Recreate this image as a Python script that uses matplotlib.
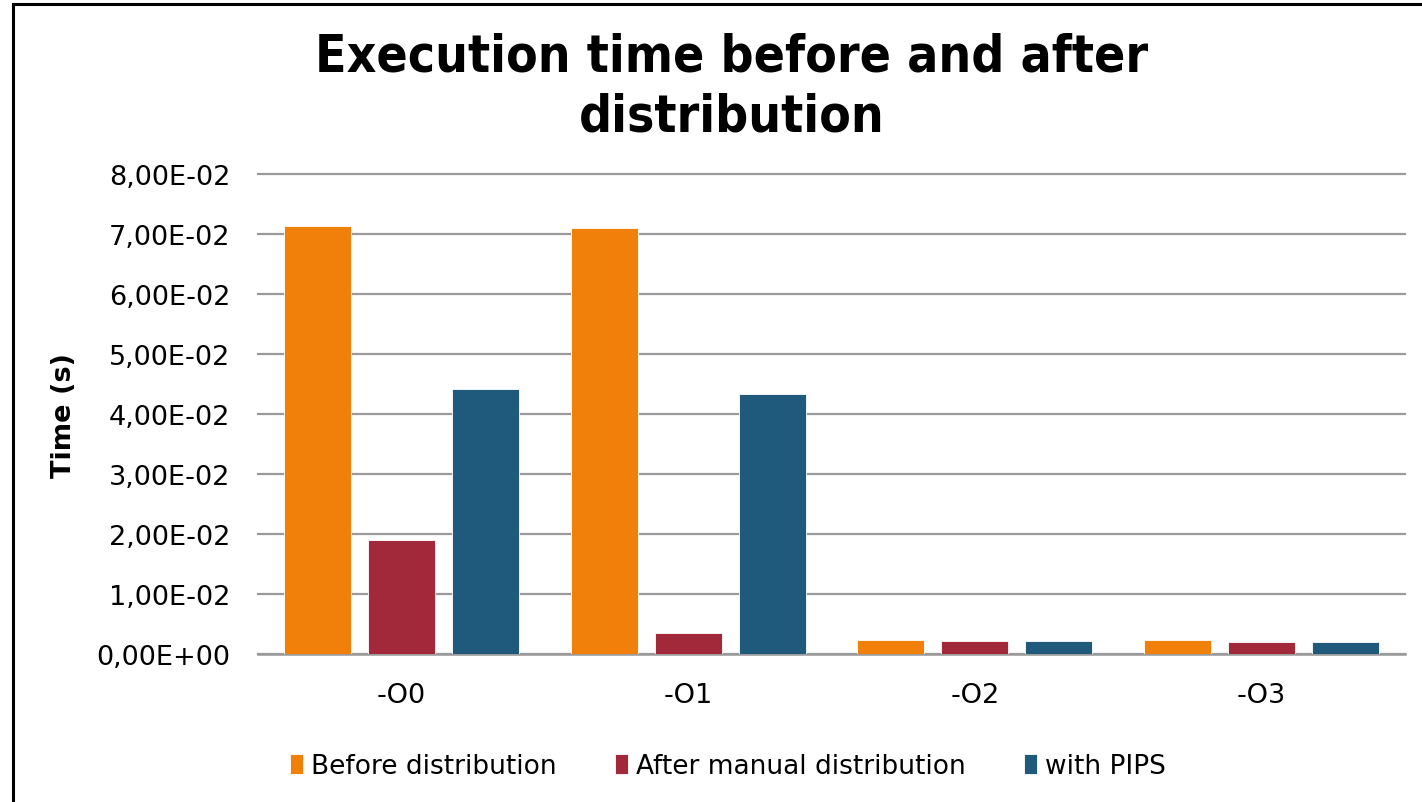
import matplotlib.pyplot as plt
import numpy as np
from matplotlib.patches import Rectangle
from matplotlib.ticker import FuncFormatter

categories = ["-O0", "-O1", "-O2", "-O3"]
series_names = ["Before distribution", "After manual distribution", "with PIPS"]
before = [0.0713, 0.0710, 0.0024, 0.0024]
manual = [0.0190, 0.0035, 0.0021, 0.0020]
pips = [0.0442, 0.0433, 0.0022, 0.0020]
colors = ["#F0800A", "#A22939", "#1F5A7D"]

plt.rcParams["font.family"] = "DejaVu Sans"

fig = plt.figure(figsize=(14.22, 8.03), dpi=100)
ax = fig.add_axes([258 / 1422, 1 - 655 / 803, (1405 - 258) / 1422, 480 / 803])

x = np.arange(len(categories))
width = 0.234
step = 0.293
for i, (vals, name, col) in enumerate(zip([before, manual, pips], series_names, colors)):
    ax.bar(x + (i - 1) * step, vals, width=width, color=col, label=name,
           edgecolor="white", linewidth=0.6, zorder=3)

ax.set_xlim(-0.5, len(categories) - 0.5)
ax.set_ylim(0, 0.08)
ax.set_yticks(np.arange(0, 0.0801, 0.01))
ax.yaxis.set_major_formatter(
    FuncFormatter(lambda v, _: f"{v:.2E}".replace(".", ",")))
ax.set_xticks(x)
ax.set_xticklabels(categories)
ax.tick_params(axis="both", length=0, labelsize=19.5, colors="black")
ax.tick_params(axis="x", pad=20)
ax.tick_params(axis="y", pad=20)
ax.grid(axis="y", color="#9a9a9a", linewidth=1.6, zorder=0)
for line in ax.get_ygridlines():
    line.set_clip_on(False)
for side in ["top", "right", "left"]:
    ax.spines[side].set_visible(False)
ax.spines["bottom"].set_color("#9a9a9a")
ax.spines["bottom"].set_linewidth(1.8)
ax.set_ylabel("Time (s)", fontsize=19.5, fontweight="bold", labelpad=14)

fig.text(0.5145, 1 - 33 / 803, "Execution time before and after\ndistribution",
         ha="center", va="top", fontsize=37, fontweight="bold",
         fontstretch="condensed", linespacing=1.25)

ax.legend(loc="center", bbox_to_anchor=(728 / 1422, 1 - 767 / 803),
          bbox_transform=fig.transFigure, ncol=3, frameon=False, fontsize=19,
          handlelength=0.5, handleheight=0.8, handletextpad=0.3, columnspacing=2.2)

# outer chart frame, running off the right and bottom edges
fig.patches.append(Rectangle((13 / 1422, -0.05), 1.1, 1 - 5 / 803 + 0.05,
                             transform=fig.transFigure, fill=False,
                             edgecolor="black", linewidth=2.2))

fig.savefig("out.png", dpi=100)
